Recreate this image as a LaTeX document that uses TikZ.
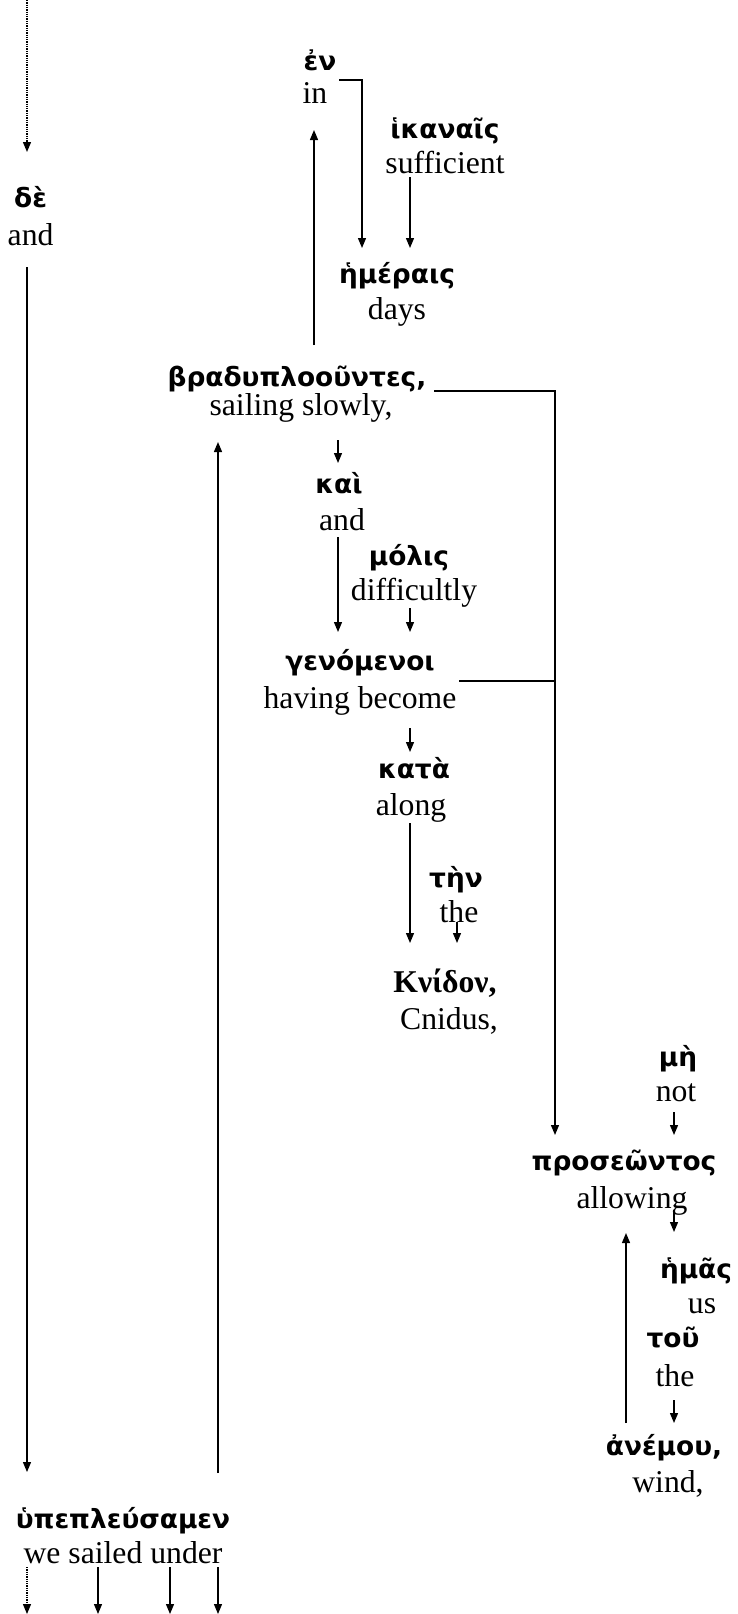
\documentclass[tikz,border=0pt]{standalone}
\usepackage{fontspec}
\setmainfont{Liberation Serif}
\newfontfamily\gk{DejaVu Sans}
\usetikzlibrary{arrows.meta}
\tikzset{
  en/.style={anchor=base, inner sep=0pt, font=\fontsize{31.7}{36}\selectfont},
  gr/.style={anchor=base, inner sep=0pt, font=\gk\bfseries\fontsize{26.4}{30}\selectfont},
  grs/.style={anchor=base, inner sep=0pt, font=\bfseries\fontsize{31.7}{36}\selectfont},
  conn/.style={line width=1.3pt},
  arr/.style={conn, -{Triangle[length=10pt,width=8pt]}},
  darr/.style={arr, densely dotted},
}
\begin{document}
\begin{tikzpicture}[x=1pt,y=-1pt]
\useasboundingbox (0,0) rectangle (738,1614);
% words
\node[gr] (de) at (30.6,207) {δὲ};
\node[en] (de-e) at (30.6,245) {and};
\node[gr] (en) at (320,70) {ἐν};
\node[en] (en-e) at (315,103) {in};
\node[gr] (ikanais) at (445,138) {ἱκαναῖς};
\node[en] (ikanais-e) at (445,173) {sufficient};
\node[gr] (hemerais) at (397,283) {ἡμέραις};
\node[en] (hemerais-e) at (397,319) {days};
\node[gr] (brady) at (297,386) {βραδυπλοοῦντες,};
\node[en] (brady-e) at (301,415) {sailing slowly,};
\node[gr] (kai) at (339,493) {καὶ};
\node[en] (kai-e) at (342,530) {and};
\node[gr] (molis) at (409,565) {μόλις};
\node[en] (molis-e) at (414,600) {difficultly};
\node[gr] (gen) at (360,670) {γενόμενοι};
\node[en] (gen-e) at (360,708) {having become};
\node[gr] (kata) at (414,778) {κατὰ};
\node[en] (kata-e) at (411,815) {along};
\node[gr] (ten) at (456,887) {τὴν};
\node[en] (ten-e) at (459,922) {the};
\node[grs] (knidon) at (445,992) {Κνίδον,};
\node[en] (knidon-e) at (449,1029) {Cnidus,};
\node[gr] (me) at (678,1066) {μὴ};
\node[en] (me-e) at (676,1101) {not};
\node[gr] (pros) at (624,1170) {προσεῶντος};
\node[en] (pros-e) at (632,1208) {allowing};
\node[gr] (hemas) at (696,1278) {ἡμᾶς};
\node[en] (hemas-e) at (702,1313) {us};
\node[gr] (tou) at (673,1347) {τοῦ};
\node[en] (tou-e) at (675,1386) {the};
\node[gr] (anemou) at (664,1455) {ἀνέμου,};
\node[en] (anemou-e) at (668,1492) {wind,};
\node[gr] (hyp) at (123,1528) {ὑπεπλεύσαμεν};
\node[en] (hyp-e) at (123,1563) {we sailed under};
% connector end points
\coordinate (top) at (27,0);
\coordinate (deIn) at (27,152);
\coordinate (deOut) at (27,267);
\coordinate (hypIn) at (27,1472);
\coordinate (hypOut) at (218,1473);
\coordinate (bradyIn) at (218,442);
\coordinate (enOut) at (339,80);
\coordinate (enBend) at (362,80);
\coordinate (hemIn1) at (362,248);
\coordinate (ikOut) at (410,177);
\coordinate (hemIn2) at (410,248);
\coordinate (bradyUp) at (314,345);
\coordinate (enIn) at (314,130);
\coordinate (bradyOut) at (434,391);
\coordinate (bradyBend) at (555,391);
\coordinate (genJoin) at (555,681);
\coordinate (genOut) at (459,681);
\coordinate (prosIn1) at (555,1135);
\coordinate (kaiTop) at (338,440);
\coordinate (kaiIn) at (338,463);
\coordinate (kaiOut) at (338,537);
\coordinate (genIn1) at (338,632);
\coordinate (molOut) at (410,608);
\coordinate (genIn2) at (410,632);
\coordinate (genDown) at (410,728);
\coordinate (kataIn) at (410,752);
\coordinate (kataOut) at (410,823);
\coordinate (knIn1) at (410,943);
\coordinate (tenOut) at (457,922);
\coordinate (knIn2) at (457,943);
\coordinate (meOut) at (674,1112);
\coordinate (prosIn2) at (674,1135);
\coordinate (prosDown) at (674,1210);
\coordinate (hemasIn) at (674,1232);
\coordinate (anUp) at (626,1423);
\coordinate (prosIn3) at (626,1233);
\coordinate (touOut) at (674,1400);
\coordinate (anIn) at (674,1423);
\coordinate (b0a) at (27,1567);   \coordinate (b0b) at (27,1614);
\coordinate (b1a) at (98,1567);   \coordinate (b1b) at (98,1614);
\coordinate (b2a) at (170,1567);  \coordinate (b2b) at (170,1614);
\coordinate (b3a) at (218,1567);  \coordinate (b3b) at (218,1614);
% connectors
\draw[darr] (top) -- (deIn);
\draw[arr] (deOut) -- (hypIn);
\draw[arr] (hypOut) -- (bradyIn);
\draw[arr] (enOut) -- (enBend) -- (hemIn1);
\draw[arr] (ikOut) -- (hemIn2);
\draw[arr] (bradyUp) -- (enIn);
\draw[arr] (bradyOut) -- (bradyBend) -- (prosIn1);
\draw[conn] (genOut) -- (genJoin);
\draw[arr] (kaiTop) -- (kaiIn);
\draw[arr] (kaiOut) -- (genIn1);
\draw[arr] (molOut) -- (genIn2);
\draw[arr] (genDown) -- (kataIn);
\draw[arr] (kataOut) -- (knIn1);
\draw[arr] (tenOut) -- (knIn2);
\draw[arr] (meOut) -- (prosIn2);
\draw[arr] (prosDown) -- (hemasIn);
\draw[arr] (anUp) -- (prosIn3);
\draw[arr] (touOut) -- (anIn);
\draw[darr] (b0a) -- (b0b);
\draw[arr] (b1a) -- (b1b);
\draw[arr] (b2a) -- (b2b);
\draw[arr] (b3a) -- (b3b);
\end{tikzpicture}
\end{document}
